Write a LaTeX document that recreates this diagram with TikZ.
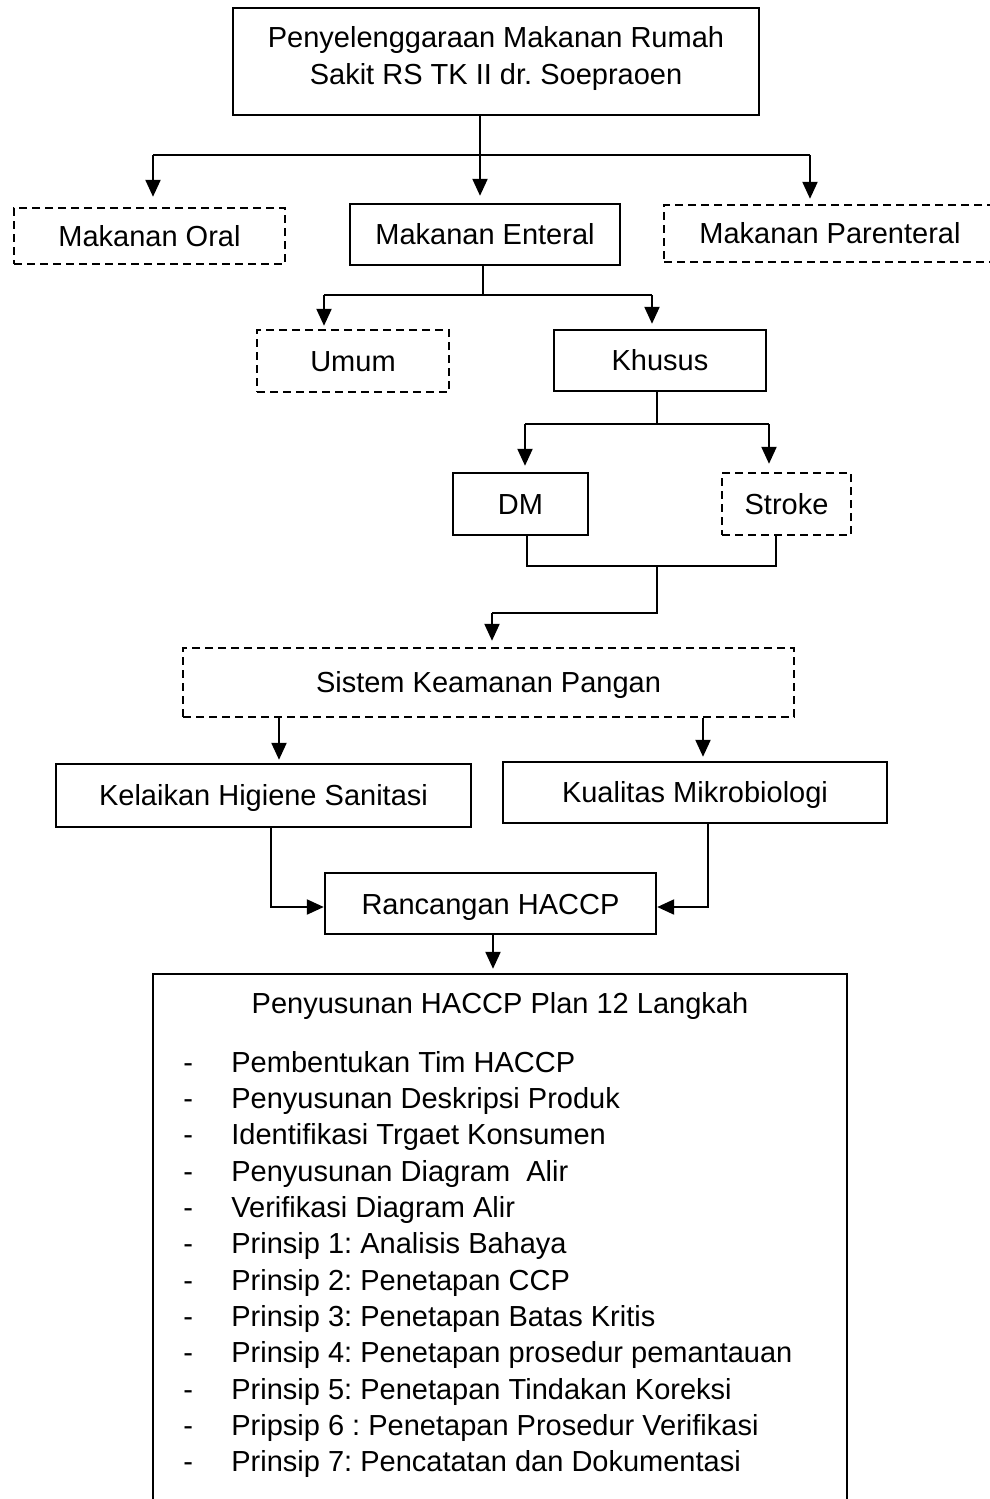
\documentclass[tikz,border=0pt]{standalone}
\usepackage{fontspec}
\setmainfont{Liberation Sans}
\usetikzlibrary{arrows.meta}
\frenchspacing
\tikzset{
  box/.style={draw, line width=1.2pt, inner sep=0pt, text height=10.4pt, text depth=0pt,
    font=\fontsize{14.5}{18.5}\selectfont},
  dbox/.style={box, dash pattern=on 4pt off 2.5pt},
  conn/.style={line width=1.1pt},
  arr/.style={conn, -{Triangle[length=8.5pt,width=7.5pt]}},
  txt/.style={inner sep=0pt, font=\fontsize{14.5}{18.5}\selectfont},
}
\begin{document}
\begin{tikzpicture}[x=0.5pt,y=-0.5pt]
\useasboundingbox (0,0) rectangle (990,1499);
\clip (0,0) rectangle (990,1499);
\fill[white] (0,0) rectangle (990,1499);

% boxes
\node[draw, line width=1.2pt, minimum width=263pt, minimum height=53.5pt] (top) at (496,61.7) {};
\node[txt, align=center] (toptext) at (496,58.5) {Penyelenggaraan Makanan Rumah\\Sakit RS TK II dr. Soepraoen};

\node[dbox, minimum width=135.5pt, minimum height=28pt] (oral) at (149.5,236) {Makanan Oral};
\node[box, minimum width=135pt, minimum height=30.5pt] (enteral) at (485,234.5) {Makanan Enteral};
\node[dbox, minimum width=166pt, minimum height=28.5pt] (parenteral) at (830,233.5) {Makanan Parenteral};

\node[dbox, minimum width=96pt, minimum height=31pt] (umum) at (353,361) {Umum};
\node[box, minimum width=106pt, minimum height=30.5pt] (khusus) at (660,360.5) {Khusus};

\node[box, minimum width=67.5pt, minimum height=31pt] (dm) at (520.5,504) {DM};
\node[dbox, minimum width=64.5pt, minimum height=31pt] (stroke) at (786.5,504) {Stroke};

\node[dbox, minimum width=305.5pt, minimum height=34.5pt] (sistem) at (488.5,682.5) {Sistem Keamanan Pangan};

\node[box, minimum width=207.5pt, minimum height=31.5pt] (kelaikan) at (263.5,795.5) {Kelaikan Higiene Sanitasi};
\node[box, minimum width=192pt, minimum height=30.5pt] (kualitas) at (695,792.5) {Kualitas Mikrobiologi};

\node[box, minimum width=165.5pt, minimum height=30.5pt] (rancangan) at (490.5,903.7) {Rancangan HACCP};

\node[draw, line width=1.2pt, minimum width=347pt, minimum height=283pt, inner sep=0pt] (big) at (500,1257) {};
\node[txt, anchor=base] (title) at (500,1013) {Penyusunan HACCP Plan 12 Langkah};
\foreach \t [count=\i] in {
  Pembentukan Tim HACCP,
  Penyusunan Deskripsi Produk,
  Identifikasi Trgaet Konsumen,
  Penyusunan Diagram\ \ Alir,
  Verifikasi Diagram Alir,
  Prinsip 1{:} Analisis Bahaya,
  Prinsip 2{:} Penetapan CCP,
  Prinsip 3{:} Penetapan Batas Kritis,
  Prinsip 4{:} Penetapan prosedur pemantauan,
  Prinsip 5{:} Penetapan Tindakan Koreksi,
  Pripsip 6 {:} Penetapan Prosedur Verifikasi,
  Prinsip 7{:} Pencatatan dan Dokumentasi}{
  \node[txt, anchor=base west] (d\i) at (183,{1072.3+(\i-1)*36.3}) {-};
  \node[txt, anchor=base west] (t\i) at (231,{1072.3+(\i-1)*36.3}) {\t};
}

% connectors
\coordinate (c1) at (480,155);
\coordinate (c1l) at (153,155);
\coordinate (c1r) at (810,155);
\draw[conn] (top.south -| c1) -- (c1);
\draw[conn] (c1l) -- (c1r);
\draw[arr, shorten >=5pt] (c1l) -- (oral.north -| c1l);
\draw[arr, shorten >=3.5pt] (c1) -- (enteral.north -| c1);
\draw[arr, shorten >=2.5pt] (c1r) -- (parenteral.north -| c1r);

\coordinate (c2) at (483,295);
\coordinate (c2l) at (324,295);
\coordinate (c2r) at (652,295);
\draw[conn] (enteral.south -| c2) -- (c2);
\draw[conn] (c2l) -- (c2r);
\draw[arr, shorten >=1.5pt] (c2l) -- (umum.north -| c2l);
\draw[arr, shorten >=2.5pt] (c2r) -- (khusus.north -| c2r);

\coordinate (c3) at (657,424);
\coordinate (c3l) at (525,424);
\coordinate (c3r) at (769,424);
\draw[conn] (khusus.south -| c3) -- (c3);
\draw[conn] (c3l) -- (c3r);
\draw[arr, shorten >=3pt] (c3l) -- (dm.north -| c3l);
\draw[arr, shorten >=4pt] (c3r) -- (stroke.north -| c3r);

\coordinate (c4l) at (527,566);
\coordinate (c4r) at (776,566);
\coordinate (c4) at (657,566);
\coordinate (c5) at (657,613);
\coordinate (c5l) at (492,613);
\draw[conn] (dm.south -| c4l) -- (c4l) -- (c4r) -- (stroke.south -| c4r);
\draw[conn] (c4) -- (c5) -- (c5l);
\draw[arr, shorten >=3pt] (c5l) -- (sistem.north -| c5l);

\coordinate (c6l) at (279,717);
\coordinate (c6r) at (703,717);
\draw[arr, shorten >=1.5pt] (sistem.south -| c6l) -- (kelaikan.north -| c6l);
\draw[arr, shorten >=2pt] (sistem.south -| c6r) -- (kualitas.north -| c6r);

\coordinate (c7l) at (271,907);
\coordinate (c7r) at (708,907);
\draw[arr] (kelaikan.south -| c7l) -- (c7l) -- (rancangan.west |- c7l);
\draw[arr] (kualitas.south -| c7r) -- (c7r) -- (rancangan.east |- c7r);

\coordinate (c8) at (493,934);
\draw[arr, shorten >=2pt] (rancangan.south -| c8) -- (big.north -| c8);
\end{tikzpicture}
\end{document}
